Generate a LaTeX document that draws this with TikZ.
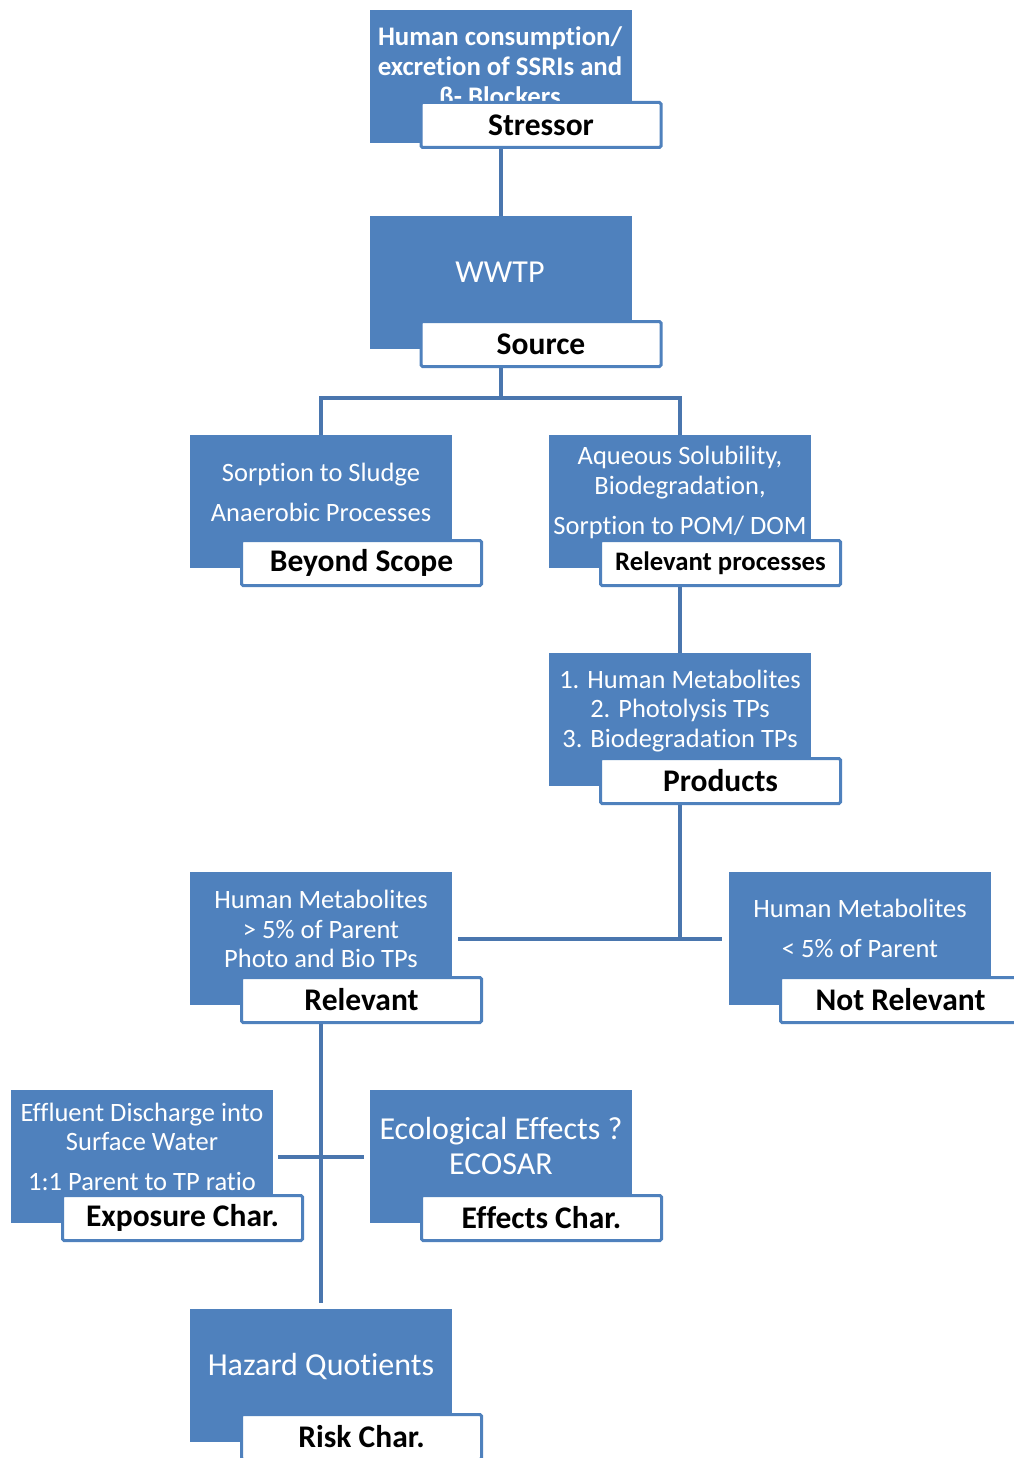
\documentclass[tikz,border=0pt]{standalone}
\usepackage{fontspec}
\setmainfont{Carlito}[Ligatures=NoCommon]
\definecolor{boxblue}{HTML}{4F81BD}
\definecolor{lineblue}{HTML}{4A76AE}

\begin{document}
\begin{tikzpicture}[x=1pt,y=-1pt,
  stage/.style={fill=boxblue,minimum width=262pt,minimum height=133pt,inner sep=0pt},
  tag/.style={draw=boxblue,line width=3pt,rounded corners=1.5pt,fill=white,minimum width=240pt,minimum height=45pt,inner sep=0pt,font=\fontsize{31.5}{33}\selectfont\bfseries},
  body/.style={text=white,align=center,inner sep=0pt,font=\fontsize{26.5}{29.5}\selectfont},
  big/.style={body,font=\fontsize{32}{35}\selectfont},
  link/.style={draw=lineblue,line width=4pt}]
\useasboundingbox (0,0) rectangle (1013,1458);

\node[stage] (stress) at (501,76.5) {};
\node[body,font=\fontsize{26.8}{30}\selectfont\bfseries] (stresstxt) at (500,68) {Human consumption/\\excretion of SSRIs and\\β- Blockers};
\node[stage] (wwtp) at (501,282.5) {};
\node[big] (wwtptxt) at (500,272) {WWTP};
\node[stage] (sludge) at (321,501.5) {};
\node[body] (sludgetxt) at (321,492) {Sorption to Sludge\\[10.5pt]Anaerobic Processes};
\node[stage] (aqueous) at (680,501.5) {};
\node[body] (aqueoustxt) at (680,492.5) {Aqueous Solubility,\\Biodegradation,\\[10.5pt]Sorption to POM/ DOM};
\node[stage] (products) at (680,719.5) {};
\node[body] (productstxt) at (680,711) {1. Human Metabolites\\2. Photolysis TPs\\3. Biodegradation TPs};
\node[stage] (relevant) at (321,938.5) {};
\node[body] (relevanttxt) at (321,929) {Human Metabolites\\> 5\% of Parent\\Photo and Bio TPs};
\node[stage] (notrel) at (860,938.5) {};
\node[body] (notreltxt) at (860,928) {Human Metabolites\\[10.5pt]< 5\% of Parent};
\node[stage] (effluent) at (142,1156.5) {};
\node[body] (effluenttxt) at (142,1147) {Effluent Discharge into\\Surface Water\\[10.5pt]1:1 Parent to TP ratio};
\node[stage] (ecology) at (501,1156.5) {};
\node[big] (ecologytxt) at (501,1146) {Ecological Effects ?\\ECOSAR};
\node[stage] (hazard) at (321,1375.5) {};
\node[big] (hazardtxt) at (321,1366) {Hazard Quotients};

\draw[link] (stress.south) -- (wwtp.north);
\draw[link] (wwtp.south) -- ++(0,49) -| (sludge.north);
\draw[link] (wwtp.south) -- ++(0,49) -| (aqueous.north);
\draw[link] (aqueous.south) -- (products.north);
\draw[link] (products.south) -- (products.south |- relevant.east);
\draw[link] ([xshift=6pt]relevant.east) -- ([xshift=-7pt]notrel.west);
\draw[link] (relevant.south) -- ([yshift=6pt]hazard.north);
\draw[link] ([xshift=5pt]effluent.east) -- ([xshift=-6pt]ecology.west);

\node[tag] (stresstag) at (541,125) {Stressor};
\node[tag] (wwtptag) at (541,344) {Source};
\node[tag] (sludgetag) at (361.5,563) {Beyond Scope};
\node[tag,font=\fontsize{26.7}{28}\selectfont\bfseries] (aqueoustag) at (720.5,563) {Relevant processes};
\node[tag] (productstag) at (720.5,781) {Products};
\node[tag] (relevanttag) at (361.5,1000) {Relevant};
\node[tag] (notreltag) at (900.5,1000) {Not Relevant};
\node[tag] (effluenttag) at (182.5,1218) {Exposure Char.};
\node[tag] (ecologytag) at (541.5,1218) {Effects Char.};
\node[tag] (hazardtag) at (361.5,1437) {Risk Char.};
\end{tikzpicture}
\end{document}
